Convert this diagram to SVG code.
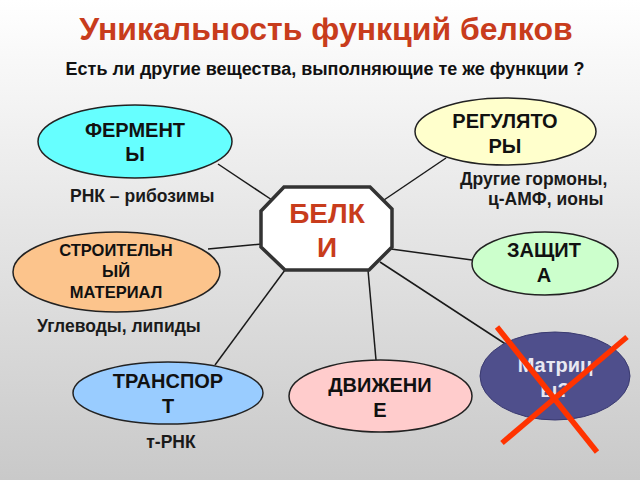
<svg xmlns="http://www.w3.org/2000/svg" width="640" height="480" viewBox="0 0 640 480">
  <defs>
    <linearGradient id="bg" x1="0" y1="0" x2="0" y2="1">
      <stop offset="0" stop-color="#ffffff"/>
      <stop offset="1" stop-color="#c9c9c9"/>
    </linearGradient>
    <style>
      .t { font-family: "Liberation Sans", Arial, sans-serif; font-weight: bold; }
      .title { font-size: 32px; fill: #c83c1c; text-anchor: middle; }
      .sub { font-size: 18px; fill: #111; text-anchor: middle; }
      .node { font-size: 20px; fill: #111; text-anchor: middle; }
      .small { font-size: 16.5px; fill: #111; text-anchor: middle; }
      .lbl { font-size: 17.5px; fill: #1a1a1a; }
      .ell { stroke: #222; stroke-width: 1.5; }
      .conn line { stroke: #1a1a1a; stroke-width: 1.5; }
    </style>
  </defs>
  <rect x="0" y="0" width="640" height="480" fill="url(#bg)"/>

  <text class="t title" x="326" y="40">Уникальность функций белков</text>
  <text class="t sub" x="325" y="75">Есть ли другие вещества, выполняющие те же функции ?</text>

  <g id="connectors" class="conn">
    <line x1="218" y1="164" x2="272" y2="200"/>
    <line x1="446" y1="158" x2="381" y2="202"/>
    <line x1="208" y1="249" x2="262" y2="244"/>
    <line x1="391" y1="249" x2="472" y2="260"/>
    <line x1="380" y1="262" x2="507" y2="345"/>
    <line x1="368" y1="270" x2="376" y2="360"/>
    <line x1="285" y1="270" x2="215" y2="365"/>
  </g>

  <g id="belki">
    <polygon points="284,187 370,187 392,209 392,247 369,270 285,270 261,247 261,211" fill="#ffffff" stroke="#333" stroke-width="3.5" stroke-linejoin="miter"/>
    <text class="t" x="327" y="223" font-size="28" fill="#c83c1c" text-anchor="middle">БЕЛК</text>
    <text class="t" x="327" y="257" font-size="28" fill="#c83c1c" text-anchor="middle">И</text>
  </g>

  <g id="fermenty">
    <ellipse class="ell" cx="135" cy="141.5" rx="97" ry="36.5" fill="#66ffff"/>
    <text class="t node" x="135" y="137">ФЕРМЕНТ</text>
    <text class="t node" x="135" y="161">Ы</text>
  </g>
  <text class="t lbl" x="70" y="202">РНК – рибозимы</text>

  <g id="regulyatory">
    <ellipse class="ell" cx="505.5" cy="131.5" rx="90.5" ry="33.5" fill="#ffffcc"/>
    <text class="t node" x="505" y="128">РЕГУЛЯТО</text>
    <text class="t node" x="505" y="153">РЫ</text>
  </g>
  <text class="t lbl" x="460" y="185">Другие гормоны,</text>
  <text class="t lbl" x="488" y="205">ц-АМФ, ионы</text>

  <g id="stroitelny">
    <ellipse class="ell" cx="116.5" cy="272" rx="103.5" ry="40" fill="#fcc48c"/>
    <text class="t small" x="116" y="256">СТРОИТЕЛЬН</text>
    <text class="t small" x="116" y="277">ЫЙ</text>
    <text class="t small" x="116" y="298">МАТЕРИАЛ</text>
  </g>
  <text class="t lbl" x="37" y="332">Углеводы, липиды</text>

  <g id="zashchita">
    <ellipse class="ell" cx="545" cy="263.5" rx="73" ry="31.5" fill="#ccffcc"/>
    <text class="t node" x="544" y="257">ЗАЩИТ</text>
    <text class="t node" x="544" y="282">А</text>
  </g>

  <g id="transport">
    <ellipse class="ell" cx="168" cy="393" rx="95" ry="31" fill="#99ccff"/>
    <text class="t node" x="168" y="388">ТРАНСПОР</text>
    <text class="t node" x="168" y="413">Т</text>
  </g>
  <text class="t lbl" x="171" y="448" text-anchor="middle">т-РНК</text>

  <g id="dvizhenie">
    <ellipse class="ell" cx="380.5" cy="396" rx="91.5" ry="36" fill="#ffcccc"/>
    <text class="t node" x="380" y="392">ДВИЖЕНИ</text>
    <text class="t node" x="380" y="417">Е</text>
  </g>

  <g id="matritsy">
    <ellipse cx="555" cy="376" rx="75" ry="44" fill="#4f4f8c" stroke="#3a3a70" stroke-width="1"/>
    <text class="t node" x="555" y="372" style="fill:#e8e8f2">Матриц</text>
    <text class="t node" x="555" y="397" style="fill:#e8e8f2">ы?</text>
  </g>

  <g id="cross" stroke="#ff3300" stroke-width="5.5" stroke-linecap="butt">
    <line x1="497" y1="327" x2="597" y2="452"/>
    <line x1="627" y1="337" x2="502" y2="443"/>
  </g>
</svg>
